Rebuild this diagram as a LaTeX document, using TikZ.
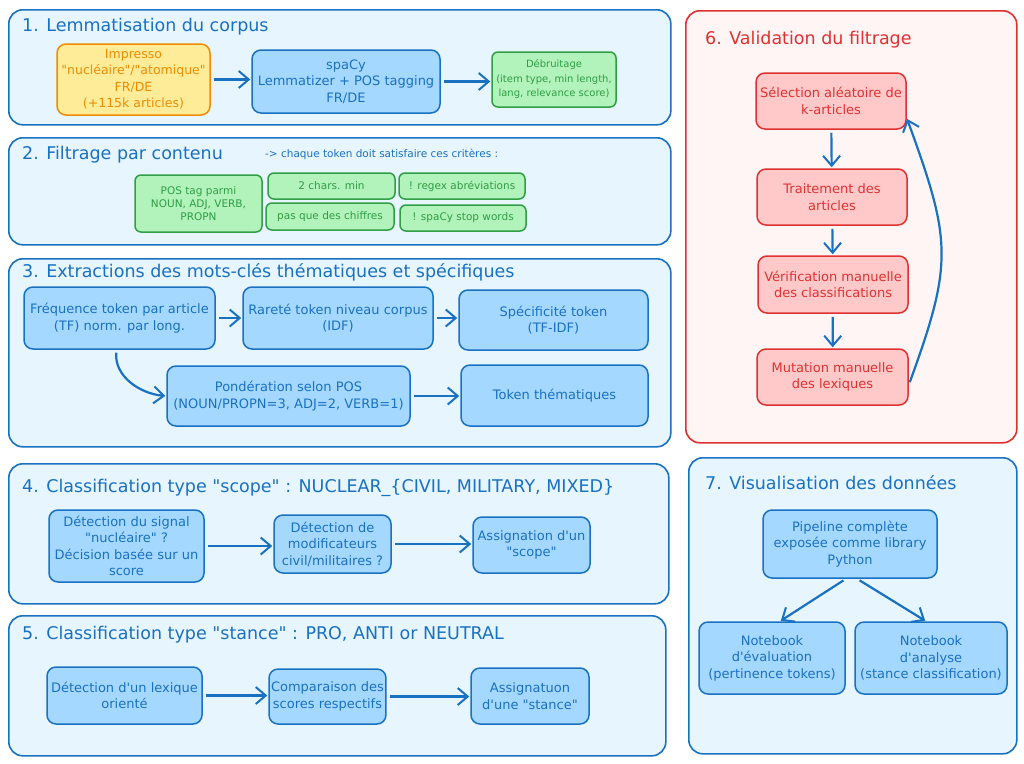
\documentclass[tikz,border=0pt]{standalone}
\usepackage{fontspec}
\setmainfont{DejaVu Sans}[Ligatures=TeXOff]
\usepackage{xcolor}
\usetikzlibrary{arrows.meta,positioning}
\definecolor{exblue}{HTML}{1971C2}
\definecolor{exbluebg}{HTML}{E7F5FF}
\definecolor{exbluefill}{HTML}{A5D8FF}
\definecolor{exgreen}{HTML}{2F9E44}
\definecolor{exgreenfill}{HTML}{B2F2BB}
\definecolor{exorange}{HTML}{F08C00}
\definecolor{exorangefill}{HTML}{FFEC99}
\definecolor{exred}{HTML}{E03131}
\definecolor{exredbg}{HTML}{FFF5F5}
\definecolor{exredfill}{HTML}{FFC9C9}
\tikzset{
  panelbox/.style={draw=exblue,fill=exbluebg,rounded corners=14pt,line width=1.6pt,
    anchor=north west,inner sep=0pt},
  redpanel/.style={panelbox,draw=exred,fill=exredbg},
  paneltitle/.style={anchor=west,inner sep=0pt,text=exblue,font=\fontsize{17.5}{20}\selectfont},
  notetext/.style={anchor=west,inner sep=0pt,text=exblue,font=\fontsize{10.5}{12}\selectfont},
  stepbox/.style={draw=exblue,fill=exbluefill,text=exblue,rounded corners=9pt,line width=1.5pt,
    align=center,inner sep=2pt,font=\fontsize{13}{16.5}\selectfont},
  greenbox/.style={stepbox,draw=exgreen,fill=exgreenfill,text=exgreen,rounded corners=6pt,
    font=\fontsize{10.5}{13}\selectfont},
  sourcebox/.style={stepbox,draw=exorange,fill=exorangefill,text=exorange,
    font=\fontsize{12.5}{16.5}\selectfont},
  checkbox/.style={stepbox,draw=exred,fill=exredfill,text=exred},
  flowarrow/.style={-{Straight Barb[length=10pt,width=17pt,line width=2pt]},line width=2.2pt,
    draw=exblue,shorten <=3pt,shorten >=1pt}
}
\begin{document}
\begin{tikzpicture}[x=1pt,y=1pt]
  \useasboundingbox[fill=white] (0,0) rectangle (1024,-763);

  % 1
  \node[panelbox,minimum width=662pt,minimum height=115pt] (lemmapanel) at (8,-9) {};
  \node[paneltitle] (lemmatitle) at (22,-27) {1. Lemmatisation du corpus};
  \node[sourcebox,minimum width=153pt,minimum height=71pt] (impresso) at (133.5,-79.5)
    {Impresso\\"nucléaire"/"atomique"\\FR/DE\\(+115k articles)};
  \node[stepbox,minimum width=188pt,minimum height=63pt] (spacy) at (346,-81.5)
    {spaCy\\Lemmatizer + POS tagging\\FR/DE};
  \node[greenbox,minimum width=124pt,minimum height=55pt,font=\fontsize{10}{14.5}\selectfont] (debruit) at (554,-79.5)
    {Débruitage\\(item type, min length,\\lang, relevance score)};
  \draw[flowarrow] (impresso.east) -- (impresso.east -| spacy.west);
  \draw[flowarrow] (spacy.east) -- (spacy.east -| debruit.west);

  % 2
  \node[panelbox,minimum width=662pt,minimum height=107pt] (filterpanel) at (8,-137) {};
  \node[paneltitle] (filtertitle) at (22,-155) {2. Filtrage par contenu};
  \node[notetext] (filternote) at (265,-154) {-> chaque token doit satisfaire ces critères :};
  \node[greenbox,minimum width=127pt,minimum height=57pt] (postag) at (198.5,-203.5)
    {POS tag parmi\\NOUN, ADJ, VERB,\\PROPN};
  \node[greenbox,minimum width=127pt,minimum height=26pt] (minchars) at (331.5,-186) {2 chars. min};
  \node[greenbox,minimum width=128pt,minimum height=27pt] (nodigits) at (330,-216.5) {pas que des chiffres};
  \node[greenbox,minimum width=126pt,minimum height=26pt] (regex) at (462,-186) {! regex abréviations};
  \node[greenbox,minimum width=126pt,minimum height=26pt] (stopwords) at (463,-218) {! spaCy stop words};

  % 3
  \node[panelbox,minimum width=662pt,minimum height=188pt] (keywordpanel) at (8,-258) {};
  \node[paneltitle] (keywordtitle) at (22,-272) {3. Extractions des mots-clés thématiques et spécifiques};
  \node[stepbox,minimum width=191pt,minimum height=62pt] (tf) at (119.5,-318)
    {Fréquence token par article\\(TF) norm. par long.};
  \node[stepbox,minimum width=190pt,minimum height=62pt] (idf) at (338,-318)
    {Rareté token niveau corpus\\(IDF)};
  \node[stepbox,minimum width=189pt,minimum height=60pt] (tfidf) at (553.5,-320)
    {Spécificité token\\(TF-IDF)};
  \node[stepbox,minimum width=243pt,minimum height=60pt] (posweight) at (288.5,-396)
    {Pondération selon POS\\(NOUN/PROPN=3, ADJ=2, VERB=1)};
  \node[stepbox,minimum width=187pt,minimum height=61pt] (thematic) at (554.5,-395.5)
    {Token thématiques};
  \draw[flowarrow] (tf.east) -- (tf.east -| idf.west);
  \draw[flowarrow] (idf.east) -- (idf.east -| tfidf.west);
  \draw[flowarrow] ([xshift=-3pt]tf.south) to[out=-95,in=175] (posweight.west);
  \draw[flowarrow] (posweight.east) -- (posweight.east -| thematic.west);

  % 4
  \node[panelbox,minimum width=660pt,minimum height=140pt] (scopepanel) at (8,-463) {};
  \node[paneltitle] (scopetitle) at (22,-488) {4. Classification type "scope" : NUCLEAR\_\{CIVIL, MILITARY, MIXED\}};
  \node[stepbox,minimum width=155pt,minimum height=72pt] (signal) at (126.5,-546)
    {Détection du signal\\"nucléaire" ?\\Décision basée sur un\\score};
  \node[stepbox,minimum width=117pt,minimum height=58pt] (modif) at (332.5,-544)
    {Détection de\\modificateurs\\civil/militaires ?};
  \node[stepbox,minimum width=117pt,minimum height=56pt] (scope) at (531.5,-545)
    {Assignation d'un\\"scope"};
  \draw[flowarrow] (signal.east) -- (signal.east -| modif.west);
  \draw[flowarrow] (modif.east) -- (modif.east -| scope.west);

  % 5
  \node[panelbox,minimum width=657pt,minimum height=140pt] (stancepanel) at (8,-615) {};
  \node[paneltitle] (stancetitle) at (22,-635) {5. Classification type "stance" : PRO, ANTI or NEUTRAL};
  \node[stepbox,minimum width=155pt,minimum height=57pt] (lexicon) at (124.5,-695.5)
    {Détection d'un lexique\\orienté};
  \node[stepbox,minimum width=115pt,minimum height=55pt] (compare) at (327.5,-696.5)
    {Comparaison des\\scores respectifs};
  \node[stepbox,minimum width=118pt,minimum height=56pt] (stance) at (530,-696)
    {Assignatuon\\d'une "stance"};
  \draw[flowarrow] (lexicon.east) -- (lexicon.east -| compare.west);
  \draw[flowarrow] (compare.east) -- (compare.east -| stance.west);

  % 6
  \node[redpanel,minimum width=331pt,minimum height=432pt] (checkpanel) at (685,-10) {};
  \node[paneltitle,text=exred] (checktitle) at (705,-40) {6. Validation du filtrage};
  \node[checkbox,minimum width=150pt,minimum height=56pt] (sample) at (831,-101)
    {Sélection aléatoire de\\k-articles};
  \node[checkbox,minimum width=150pt,minimum height=56pt] (process) at (832,-197)
    {Traitement des\\articles};
  \node[checkbox,minimum width=150pt,minimum height=57pt] (verify) at (833,-284.5)
    {Vérification manuelle\\des classifications};
  \node[checkbox,minimum width=151pt,minimum height=56pt] (mutate) at (832.5,-377)
    {Mutation manuelle\\des lexiques};
  \draw[flowarrow] (sample) -- (process);
  \draw[flowarrow] (process) -- (verify);
  \draw[flowarrow] (verify) -- (mutate);
  \draw[flowarrow] ([yshift=-8pt]mutate.east) to[out=70,in=-70,looseness=1.25] ([yshift=-17pt]sample.east);

  % 7
  \node[panelbox,minimum width=328pt,minimum height=296pt] (vizpanel) at (688,-457) {};
  \node[paneltitle] (viztitle) at (705,-483) {7. Visualisation des données};
  \node[stepbox,minimum width=174pt,minimum height=68pt] (library) at (850,-544)
    {Pipeline complète\\exposée comme library\\Python};
  \node[stepbox,minimum width=146pt,minimum height=72pt] (evalnb) at (772,-658)
    {Notebook\\d'évaluation\\(pertinence tokens)};
  \node[stepbox,minimum width=152pt,minimum height=72pt] (analysisnb) at (931,-658)
    {Notebook\\d'analyse\\(stance classification)};
  \draw[flowarrow] ([xshift=-4pt]library.south) -- ([xshift=8pt]evalnb.north);
  \draw[flowarrow] ([xshift=7pt]library.south) -- ([xshift=-5pt]analysisnb.north);
\end{tikzpicture}
\end{document}
